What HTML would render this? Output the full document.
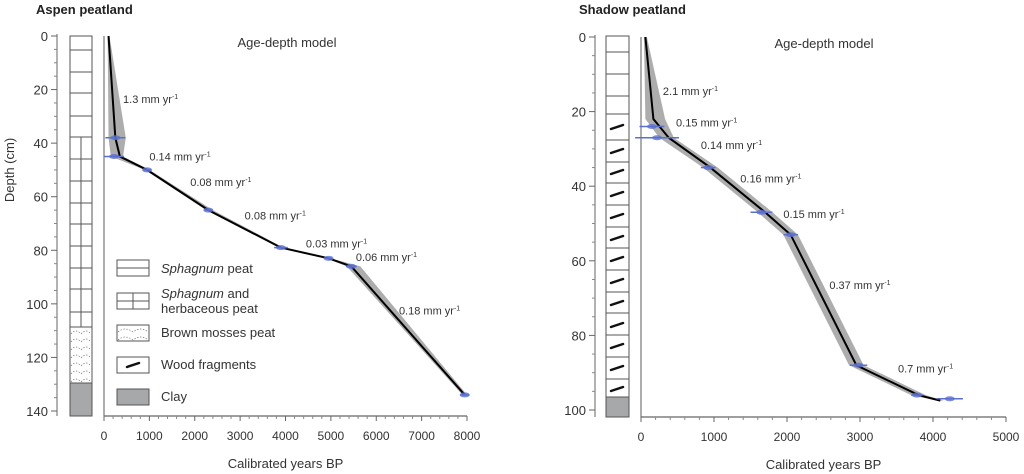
<!DOCTYPE html>
<html><head><meta charset="utf-8"><style>
body{margin:0;background:#fff;}
svg{display:block;font-family:"Liberation Sans",Arial,sans-serif;}
</style></head><body>
<svg id="s" width="1024" height="474" viewBox="0 0 1024 474"></svg>
<script>
// Aspen data
const aspenAges=[100,250,350,950,2300,3900,4950,5450,7950];
const aspenDepths=[0,38,45,50,65,79,83,86,134];
const aspenBandLo=[80,100,150,900,2250,3850,4900,5350,7900];
const aspenBandHi=[120,480,420,1000,2400,3950,5000,5650,8000];
const aspenDates=[38,45,50,65,79,83,86,134];
const aspenDateAges=[250,220,950,2300,3900,4950,5450,7950];
const aspenDateErr=[220,220,80,80,150,70,120,100];
const aspenRates=["1.3","0.14","0.08","0.08","0.03","0.06","0.18"];
const aspenRateAge=[420,1000,1900,3100,4450,5550,6500];
const aspenRateDepth=[25,46.5,56,68.5,79,84,104];
const aspenXTicks=[0,1000,2000,3000,4000,5000,6000,7000,8000];
const aspenYTicks=[0,20,40,60,80,100,120,140];
// Shadow data
const shadowAges=[60,170,380,950,1700,2050,2950,3800,4100];
const shadowDepths=[0,22,27,35,47,53,88,96,97.5];
const shadowBandLo=[40,60,250,850,1600,1950,2850,3700,4050];
const shadowBandHi=[80,330,450,1050,1800,2150,3050,3900,4150];
const shadowDates=[24,27,35,47,53,88,96,97];
const shadowDateAges=[150,220,920,1650,2050,2980,3780,4230];
const shadowDateErr=[170,300,100,150,100,120,80,180];
const shadowRates=["2.1","0.15","0.14","0.16","0.15","0.37","0.7"];
const shadowRateAge=[300,480,820,1360,1950,2580,3520];
const shadowRateDepth=[15.5,24,30,39,48.5,67.5,90];
const shadowXTicks=[0,1000,2000,3000,4000,5000];
const shadowYTicks=[0,20,40,60,80,100];

const S=document.getElementById('s');const NS='http://www.w3.org/2000/svg';
function el(t,a,txt){const e=document.createElementNS(NS,t);for(const k in a)e.setAttribute(k,a[k]);if(txt!==undefined)e.textContent=txt;S.appendChild(e);return e;}

function panel(o){
 const X=v=>o.x0+(v-o.xmin)*(o.x1-o.x0)/(o.xmax-o.xmin);
 const Y=d=>o.y0+d*(o.y1-o.y0)/o.dmax;
 let e=el('text',{x:o.tx,y:14,'font-size':13,'font-weight':'bold',fill:'#222'},o.title);
 
 
 e=el('line',{x1:o.dax,y1:o.y0-2,x2:o.dax,y2:o.axisY,stroke:'#666','stroke-width':1});
 
 
 o.yTicks.forEach(t=>{el('line',{x1:o.dax-6,y1:Y(t),x2:o.dax,y2:Y(t),stroke:'#666'});
  e=el('text',{x:o.dax-9,y:Y(t)+5,'font-size':13,'text-anchor':'end',fill:'#333'},t);
  
  });
 for(let t=0;t<=o.dmax;t+=5){if(t%20)el('line',{x1:o.dax-3,y1:Y(t),x2:o.dax,y2:Y(t),stroke:'#888'});}
 el('line',{x1:o.x0,y1:o.y0,x2:o.x0,y2:o.axisY,stroke:'#777','stroke-width':1.2});
 e=el('line',{x1:o.x0,y1:o.axisY,x2:o.x1,y2:o.axisY,stroke:'#666','stroke-width':1.2});
 
 
 o.xTicks.forEach((t,i)=>{el('line',{x1:X(t),y1:o.axisY,x2:X(t),y2:o.axisY+5,stroke:'#666'});
  e=el('text',{x:X(t),y:o.axisY+24,'font-size':12,'text-anchor':'middle',fill:'#333'},t);
  
  
  if(i<o.xTicks.length-1)for(let k=1;k<5;k++){const m=t+(o.xTicks[1]-o.xTicks[0])*k/5;el('line',{x1:X(m),y1:o.axisY,x2:X(m),y2:o.axisY+3,stroke:'#888'});}});
 e=el('text',{x:(o.x0+o.x1)/2,y:o.axisY+52,'font-size':13,'text-anchor':'middle',fill:'#333'},'Calibrated years BP');
 
 
 e=el('text',{x:o.mx,y:o.y0+11,'font-size':13,'text-anchor':'middle',fill:'#333'},'Age-depth model');
 
 
 let pts=o.depths.map((d,i)=>X(o.hi[i])+','+Y(d)).concat(o.depths.map((d,i)=>X(o.lo[i])+','+Y(d)).reverse());
 e=el('polygon',{points:pts.join(' '),fill:'#999',opacity:0.8});
 
 
 e=el('polyline',{points:o.depths.map((d,i)=>X(o.ages[i])+','+Y(d)).join(' '),fill:'none',stroke:'#000','stroke-width':2});
 
 
 o.dates.forEach((d,i)=>{const a=o.dAges[i],r=o.dErr[i];
  e=el('line',{x1:X(a-r),y1:Y(d),x2:X(a+r),y2:Y(d),stroke:'#5a6fd0','stroke-width':1.5});
  
  
  el('ellipse',{cx:X(a),cy:Y(d),rx:5,ry:2.5,fill:'#5a6fd0',opacity:0.8});});
 o.rates.forEach((r,i)=>{e=el('text',{x:X(o.rAge[i]),y:Y(o.rDepth[i]),'font-size':11,fill:'#333'});
  
  
  e.textContent=r+' mm yr';const ts=document.createElementNS(NS,'tspan');ts.setAttribute('dy','-4');ts.setAttribute('font-size','7');ts.textContent='-1';e.appendChild(ts);});
 return Y;
}
function box(x,y,w,h,fill,name){const e=el('rect',{x:x,y:y,width:w,height:h,fill:fill,stroke:'#555','stroke-width':1});return e;}
function wood(cx,cy){el('path',{d:`M${cx-6},${cy+2} L${cx+6},${cy-2}`,stroke:'#111','stroke-width':2.5,'stroke-linecap':'round'});}
function moss(x,y,w,h){for(let yy=y+4;yy<y+h;yy+=8){el('path',{d:`M${x+1},${yy+3} Q${x+w/4},${yy-3} ${x+w/2},${yy+3} Q${x+3*w/4},${yy-3} ${x+w-1},${yy+3}`,fill:'none',stroke:'#777','stroke-width':0.7,'stroke-dasharray':'1.5,1.5'});}}

panel({id:'aspen',title:'Aspen peatland',tx:36,dax:57,y0:36,y1:411,dmax:140,axisY:416,x0:104,x1:467,xmin:0,xmax:8000,mx:287,
 ages:aspenAges,depths:aspenDepths,lo:aspenBandLo,hi:aspenBandHi,dates:aspenDates,dAges:aspenDateAges,dErr:aspenDateErr,
 rates:aspenRates,rAge:aspenRateAge,rDepth:aspenRateDepth,xTicks:aspenXTicks,yTicks:aspenYTicks});
panel({id:'shadow',title:'Shadow peatland',tx:579,dax:595,y0:37,y1:410,dmax:100,axisY:417,x0:641,x1:1006,xmin:0,xmax:5000,mx:824,
 ages:shadowAges,depths:shadowDepths,lo:shadowBandLo,hi:shadowBandHi,dates:shadowDates,dAges:shadowDateAges,dErr:shadowDateErr,
 rates:shadowRates,rAge:shadowRateAge,rDepth:shadowRateDepth,xTicks:shadowXTicks,yTicks:shadowYTicks});

box(70,36,22,291,'#fff','aspen-peat-column');
[50,72,93,116,137,159,181,203,224,246,268,289,312].forEach(y=>el('line',{x1:70,y1:y,x2:92,y2:y,stroke:'#555'}));
el('line',{x1:81,y1:137,x2:81,y2:327,stroke:'#555'});
box(70,327,22,56,'#fff','aspen-brown-moss-layer');moss(70,327,22,56);
box(70,383,22,33,'#a7a8aa','aspen-clay-layer');
box(606,36,23,361,'#fff','shadow-peat-column');
[52,74,96,114,140,162,183,205,227,248,270,292,313,335,357,379].forEach(y=>el('line',{x1:606,y1:y,x2:629,y2:y,stroke:'#555'}));
[127,151,172,194,216,238,259,281,303,325,346,368,389].forEach(y=>wood(617,y));
box(606,397,23,20,'#a7a8aa','shadow-clay-layer');
const lg=[[260,'sphagnum'],[293,'sphagnum-herb'],[325,'brown-moss'],[357,'wood'],[389,'clay']];
lg.forEach(([y,k])=>{box(117,y,32,16,k==='clay'?'#a7a8aa':'#fff','legend-swatch-'+k);});
el('line',{x1:117,y1:268,x2:149,y2:268,stroke:'#555'});
el('line',{x1:117,y1:301,x2:149,y2:301,stroke:'#555'});el('line',{x1:133,y1:293,x2:133,y2:309,stroke:'#555'});
moss(117,325,32,16);wood(133,365);
function lt(x,y,html,name){const e=el('text',{x:x,y:y,'font-size':13,fill:'#333'});e.innerHTML=html;}
lt(161,273,'<tspan font-style="italic">Sphagnum</tspan> peat','legend-sphagnum-peat');
lt(161,298,'<tspan font-style="italic">Sphagnum</tspan> and','legend-sphagnum-herb-1');
lt(161,313,'herbaceous peat','legend-sphagnum-herb-2');
lt(161,337,'Brown mosses peat','legend-brown-moss');
lt(161,369,'Wood fragments','legend-wood');
lt(161,401,'Clay','legend-clay');
const yt=el('text',{x:0,y:0,'font-size':13,fill:'#333','text-anchor':'middle',transform:'translate(14,170) rotate(-90)'},'Depth (cm)');


</script>
</body></html>
